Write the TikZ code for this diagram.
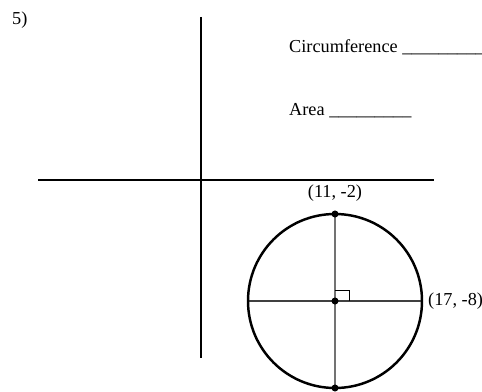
\documentclass[tikz,border=0pt]{standalone}
\usepackage{fontspec}
\setmainfont{Liberation Serif}
\usetikzlibrary{positioning,backgrounds}

\begin{document}
\begin{tikzpicture}[x=0.02cm, y=-0.02cm, font=\fontsize{10.4}{12}\selectfont,
  axis/.style={line width=1.7pt},
  rim/.style={line width=1.4pt},
  diam/.style={line width=0.6pt, draw=#1},
  dot/.style={circle, fill=black, inner sep=0pt, minimum size=4pt}]
  \useasboundingbox (0,0) rectangle (482,391);
  \node[anchor=base west] (num) at (6,25) {5)};
  % axes
  \coordinate (ytop) at (201,17); \coordinate (ybot) at (201,358);
  \coordinate (xlft) at (38,180); \coordinate (xrgt) at (434,180);
  \draw[axis] (ytop) -- (ybot);
  \draw[axis] (xlft) -- (xrgt);
  \node[anchor=base west] (circ) at (283,53) {Circumference \_\_\_\_\_\_\_\_\_};
  \node[anchor=base west] (area) at (283,116) {Area \_\_\_\_\_\_\_\_\_};
  % circle
  \coordinate (c) at (335,301);
  \coordinate (lft) at (248,301); \coordinate (rgt) at (422,301);
  \draw[rim] (c) circle[radius=87];
  \node[dot] (top) at (335,214) {};
  \node[dot] (ctr) at (c) {};
  \node[dot] (bot) at (335,388) {};
  \begin{pgfonlayer}{background}
    \draw[diam=black!55] (top.center) -- (bot.center);
    \draw[diam=black!75] (lft) -- (rgt);
  \end{pgfonlayer}
  \draw[line width=0.5pt] (335,290) -| (349,301);
  \node[above=1.5pt of top] (ptop) {(11, -2)};
  \node[right=0pt of rgt] (prgt) {(17, -8)};
\end{tikzpicture}
\end{document}
